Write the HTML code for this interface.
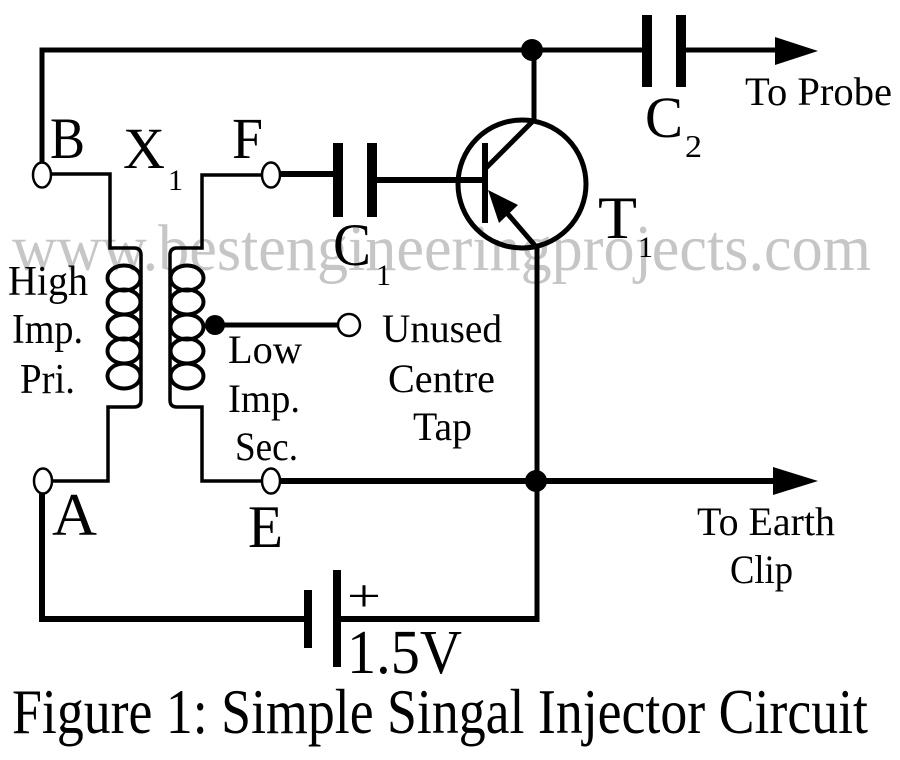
<!DOCTYPE html>
<html>
<head>
<meta charset="utf-8">
<style>
html,body{margin:0;padding:0;background:#fff;}
svg{display:block;}
text{font-family:"Liberation Serif","Times New Roman",serif;fill:#000;}
</style>
</head>
<body>
<svg width="900" height="760" viewBox="0 0 900 760" xmlns="http://www.w3.org/2000/svg">
<rect x="0" y="0" width="900" height="760" fill="#fff"/>

<!-- watermark -->
<text x="12" y="270" font-size="66" textLength="859" lengthAdjust="spacingAndGlyphs" style="fill:#c6c6c6">www.bestengineeringprojects.com</text>

<g stroke="#000" fill="none" stroke-linecap="butt">
  <!-- top wire -->
  <polyline points="42,163 42,50 644,50" stroke-width="5" stroke-linejoin="miter"/>
  <line x1="684" y1="50" x2="778" y2="50" stroke-width="5"/>
  <!-- collector lead -->
  <line x1="534" y1="50" x2="534" y2="122" stroke-width="5"/>
  <!-- transistor -->
  <circle cx="522" cy="184" r="64" stroke-width="5"/>
  <line x1="535" y1="119" x2="486" y2="168" stroke-width="5"/>
  <line x1="485" y1="143" x2="485" y2="223" stroke-width="6"/>
  <line x1="372" y1="180" x2="485" y2="180" stroke-width="6"/>
  <line x1="494" y1="198" x2="538" y2="249" stroke-width="5"/>
  <line x1="537" y1="246" x2="537" y2="622" stroke-width="5"/>
  <!-- C1 wire -->
  <line x1="278" y1="174" x2="336" y2="174" stroke-width="6"/>
  <!-- earth wire -->
  <line x1="279" y1="481" x2="778" y2="481" stroke-width="6"/>
  <!-- bottom loop -->
  <polyline points="42,492 42,619 308,619" stroke-width="6" stroke-linejoin="miter"/>
  <line x1="337" y1="619" x2="539" y2="619" stroke-width="6"/>
  <!-- centre tap -->
  <line x1="215" y1="325" x2="339" y2="325" stroke-width="5"/>

  <!-- transformer leads -->
  <path d="M50 174 H110 V248 H134 Q141 248 141 255 V400 Q141 407 134 407 H108 V481 H51" stroke-width="3.5"/>
  <path d="M263 175 H202 V248 H177 Q170 248 170 255 V400 Q170 407 177 407 H202 V481 H263" stroke-width="3.5"/>
  <!-- primary loops -->
  <ellipse cx="124" cy="278" rx="16.5" ry="12.5" stroke-width="4"/>
  <ellipse cx="124" cy="302" rx="16.5" ry="12.5" stroke-width="4"/>
  <ellipse cx="124" cy="327" rx="16.5" ry="12.5" stroke-width="4"/>
  <ellipse cx="124" cy="351" rx="16.5" ry="12.5" stroke-width="4"/>
  <ellipse cx="124" cy="376" rx="16.5" ry="12.5" stroke-width="4"/>
  <!-- secondary loops -->
  <ellipse cx="187" cy="278" rx="16.5" ry="12.5" stroke-width="4"/>
  <ellipse cx="187" cy="302" rx="16.5" ry="12.5" stroke-width="4"/>
  <ellipse cx="187" cy="327" rx="16.5" ry="12.5" stroke-width="4"/>
  <ellipse cx="187" cy="351" rx="16.5" ry="12.5" stroke-width="4"/>
  <ellipse cx="187" cy="376" rx="16.5" ry="12.5" stroke-width="4"/>
</g>

<g fill="#000">
  <!-- C2 plates -->
  <rect x="642" y="15" width="10" height="72"/>
  <rect x="676" y="15" width="10" height="72"/>
  <!-- C1 plates -->
  <rect x="333" y="143" width="10" height="74"/>
  <rect x="367" y="143" width="10" height="74"/>
  <!-- battery plates -->
  <rect x="304" y="590" width="8" height="58"/>
  <rect x="333" y="570" width="8" height="97"/>
  <!-- arrows -->
  <polygon points="775,37 818,51 775,65"/>
  <polygon points="773,467 818,481 773,495"/>
  <!-- emitter arrowhead -->
  <polygon points="488,190 518,205 499,223"/>
  <!-- junction dots -->
  <circle cx="532" cy="50" r="11"/>
  <circle cx="536" cy="481" r="11"/>
  <circle cx="215" cy="325" r="10"/>
</g>

<!-- terminals -->
<g fill="#fff" stroke="#000" stroke-width="2.5">
  <ellipse cx="42" cy="175" rx="9" ry="12.5"/>
  <ellipse cx="271" cy="175" rx="9" ry="12.5"/>
  <ellipse cx="43" cy="481" rx="9" ry="12.5"/>
  <ellipse cx="271" cy="481" rx="9" ry="12.5"/>
  <circle cx="349" cy="325" r="11"/>
</g>

<!-- labels -->
<text x="50" y="158" font-size="58" textLength="35" lengthAdjust="spacingAndGlyphs">B</text>
<text x="123" y="168" font-size="58" textLength="42" lengthAdjust="spacingAndGlyphs">X</text>
<text x="168" y="190" font-size="30">1</text>
<text x="232" y="158" font-size="58" textLength="31" lengthAdjust="spacingAndGlyphs">F</text>
<text x="333" y="265" font-size="60" textLength="38" lengthAdjust="spacingAndGlyphs">C</text>
<text x="376" y="285" font-size="30">1</text>
<text x="598" y="238" font-size="60" textLength="39" lengthAdjust="spacingAndGlyphs">T</text>
<text x="638" y="257" font-size="30">1</text>
<text x="645" y="137" font-size="58" textLength="38" lengthAdjust="spacingAndGlyphs">C</text>
<text x="685" y="157" font-size="32" textLength="17" lengthAdjust="spacingAndGlyphs">2</text>
<text x="745" y="105" font-size="40" textLength="147" lengthAdjust="spacingAndGlyphs">To Probe</text>

<text x="8" y="295" font-size="42" textLength="80" lengthAdjust="spacingAndGlyphs">High</text>
<text x="12" y="343" font-size="42" textLength="71" lengthAdjust="spacingAndGlyphs">Imp.</text>
<text x="20" y="393" font-size="42" textLength="55" lengthAdjust="spacingAndGlyphs">Pri.</text>

<text x="228" y="363" font-size="40" textLength="74" lengthAdjust="spacingAndGlyphs">Low</text>
<text x="228" y="412" font-size="40" textLength="72" lengthAdjust="spacingAndGlyphs">Imp.</text>
<text x="235" y="460" font-size="40" textLength="63" lengthAdjust="spacingAndGlyphs">Sec.</text>

<text x="382" y="342" font-size="40" textLength="120" lengthAdjust="spacingAndGlyphs">Unused</text>
<text x="388" y="392" font-size="40" textLength="107" lengthAdjust="spacingAndGlyphs">Centre</text>
<text x="413" y="440" font-size="40" textLength="59" lengthAdjust="spacingAndGlyphs">Tap</text>

<text x="52" y="535" font-size="60" textLength="45" lengthAdjust="spacingAndGlyphs">A</text>
<text x="248" y="547" font-size="60" textLength="35" lengthAdjust="spacingAndGlyphs">E</text>

<text x="697" y="535" font-size="40" textLength="138" lengthAdjust="spacingAndGlyphs">To Earth</text>
<text x="730" y="583" font-size="40" textLength="63" lengthAdjust="spacingAndGlyphs">Clip</text>

<text x="347" y="611" font-size="46" textLength="34" lengthAdjust="spacingAndGlyphs">+</text>
<text x="347" y="673" font-size="62" textLength="115" lengthAdjust="spacingAndGlyphs">1.5V</text>

<text x="12" y="733" font-size="64" textLength="856" lengthAdjust="spacingAndGlyphs">Figure 1: Simple Singal Injector Circuit</text>
</svg>
</body>
</html>
